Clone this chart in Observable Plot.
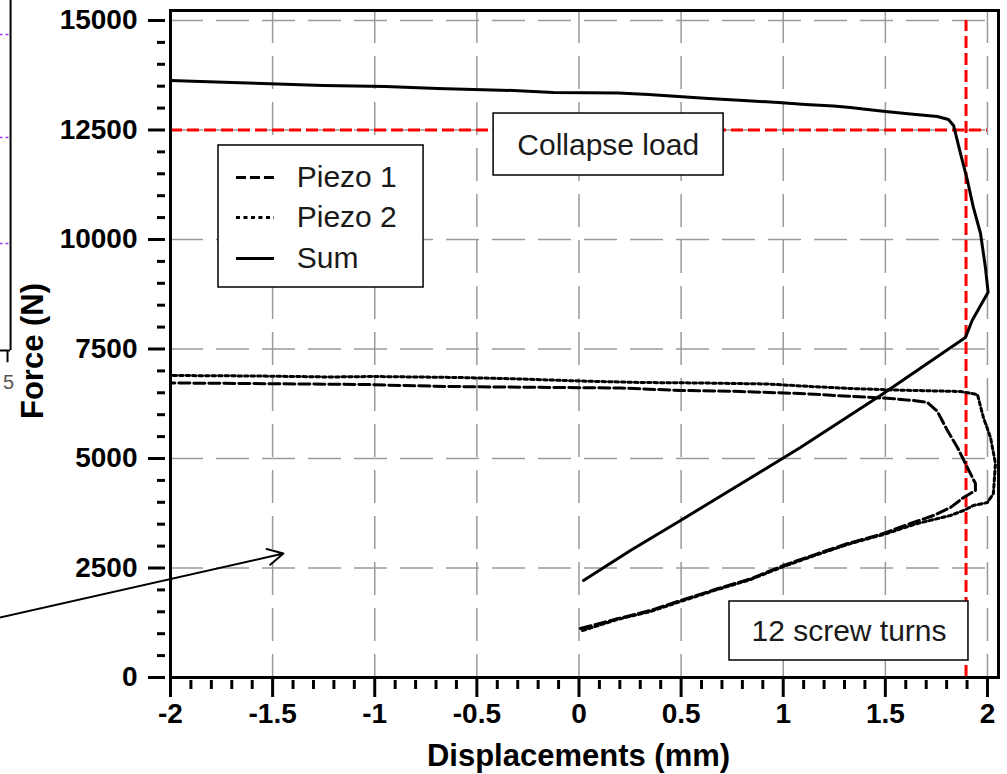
<!DOCTYPE html>
<html><head><meta charset="utf-8">
<script src="https://cdn.jsdelivr.net/npm/d3@7"></script>
<script src="https://cdn.jsdelivr.net/npm/@observablehq/plot@0.6"></script>
<style>
html,body{margin:0;padding:0;background:#fff;}
#chart{width:1007px;height:774px;overflow:hidden;}
</style></head><body><div id="chart"></div>
<script>
// ---- tick labels ----
const xMajorTicks = [-2, -1.5, -1, -0.5, 0, 0.5, 1, 1.5, 2];
const xMinorTicks = [-1.9,-1.8,-1.7,-1.6,-1.4,-1.3,-1.2,-1.1,-0.9,-0.8,-0.7,-0.6,-0.4,-0.3,-0.2,-0.1,
                     0.1,0.2,0.3,0.4,0.6,0.7,0.8,0.9,1.1,1.2,1.3,1.4,1.6,1.7,1.8,1.9];
const yMajorTicks = [0, 2500, 5000, 7500, 10000, 12500, 15000];
const yMinorTicks = [500,1000,1500,2000,3000,3500,4000,4500,5500,6000,6500,7000,8000,8500,9000,9500,
                     10500,11000,11500,12000,13000,13500,14000,14500];
const xGrid = [-1.5, -1, -0.5, 0, 0.5, 1, 1.5, 2];
const yGrid = [2500, 5000, 7500, 10000, 12500, 15000];

// ---- series (displacement mm, force N) ----
const sumX = [0.022,0.252,0.497,0.658,1.084,1.476,1.892,1.925,2.003,1.990,1.966,1.931,1.902,1.868,1.834,1.809,1.755,1.623,1.501,1.413,1.329,1.246,1.109,0.977,0.805,0.634,0.487,0.340,0.193,-0.125,-0.321,-0.693,-0.947,-1.251,-1.550,-1.853,-2.0];
const sumY = [2215,2900,3584,4041,5251,6438,7763,8151,8797,9361,10137,10731,11347,11963,12603,12740,12808,12865,12922,12968,13014,13048,13082,13128,13174,13219,13265,13311,13345,13356,13402,13447,13493,13516,13562,13607,13630];

const piezo1X = [0.007,0.187,0.350,0.497,0.677,0.840,1.001,1.166,1.313,1.491,1.623,1.736,1.819,1.883,1.941,1.941,1.892,1.853,1.804,1.755,1.706,1.638,1.525,1.344,1.084,0.790,0.497,0.203,-0.091,-0.384,-0.644,-0.874,-1.036,-1.364,-1.594,-2.0];
const piezo1Y = [1119,1340,1530,1758,2025,2253,2557,2824,3053,3288,3516,3699,3881,4110,4269,4429,4886,5251,5639,6073,6279,6324,6370,6416,6484,6530,6553,6610,6621,6632,6644,6667,6689,6701,6712,6724];

const piezo2X = [0.017,0.188,0.350,0.497,0.678,0.840,1.001,1.168,1.315,1.491,1.657,1.819,1.883,1.931,2.000,2.029,2.039,2.015,1.980,1.951,1.868,1.540,1.329,1.133,0.923,0.595,0.301,0.007,-0.286,-0.580,-1.006,-1.217,-1.594,-2.0];
const piezo2Y = [1073,1324,1507,1735,2009,2237,2534,2808,3037,3265,3516,3699,3813,3927,3995,4201,4886,5479,5936,6461,6530,6564,6598,6644,6701,6724,6735,6769,6815,6849,6872,6861,6884,6895];

// ---- reference lines ----
const collapseLoad = [12500];
const screwTurnsX = [1.895];

// ---- annotations ----
const noteTexts = ["Collapse load", "12 screw turns"];
const noteBoxX1 = [-0.418, 0.737];
const noteBoxX2 = [0.708, 1.907];
const noteBoxY1 = [11461, 388];
const noteBoxY2 = [12876, 1735];
const noteTextX = [0.143, 1.322];
const noteTextY = [12150, 1055];

const legendLabels = ["Piezo 1", "Piezo 2", "Sum"];
const legendDash = ["10,4", "4,3.5", null];
const legendBox = {x1: -1.765, x2: -0.761, y1: 8904, y2: 12146};
const legendRowY = [11415, 10502, 9566];
const legendLineX = [-1.677, -1.491];
const legendTextX = -1.382;

const arrowFrom = [-2.9, 1300];
const arrowTo = [-1.447, 2831];

// fragment of the neighbouring figure at the left edge
const fragX = -2.783, fragTickX = -2.798, fragLeftX = -2.84;
const fragY = [7466, 15456];
const fragDashY = [14680, 12328, 9908];

const mk = (xs, ys) => xs.map((x, i) => ({x, y: ys[i]}));
const sum = mk(sumX, sumY), piezo1 = mk(piezo1X, piezo1Y), piezo2 = mk(piezo2X, piezo2Y);
const notes = noteTexts.map((t, i) => ({t, x1: noteBoxX1[i], x2: noteBoxX2[i], y1: noteBoxY1[i], y2: noteBoxY2[i], tx: noteTextX[i], ty: noteTextY[i]}));

const font = "'Liberation Sans', Arial, Helvetica, sans-serif";
const legendMarks = legendLabels.map((lab, i) => Plot.ruleY([legendRowY[i]], {
  x1: legendLineX[0], x2: legendLineX[1], stroke: "black", strokeWidth: 3,
  strokeDasharray: legendDash[i] || undefined
}));

const chart = Plot.plot({
  width: 1007, height: 774,
  marginLeft: 170, marginRight: 9, marginTop: 10, marginBottom: 97,
  x: {domain: [-2, 2.054]},
  y: {domain: [0, 15228]},
  style: {fontFamily: font, background: "white", overflow: "visible"},
  marks: [
    Plot.ruleX(xGrid, {stroke: "#9a9a9a", strokeWidth: 1.5, strokeDasharray: "33,13"}),
    Plot.ruleY(yGrid, {stroke: "#9a9a9a", strokeWidth: 1.5, strokeDasharray: "33,13"}),
    Plot.ruleY(collapseLoad, {x1: -2, x2: 2, stroke: "#f00", strokeWidth: 3, strokeDasharray: "12,5"}),
    Plot.ruleX(screwTurnsX, {y1: 0, y2: 15000, stroke: "#f00", strokeWidth: 3, strokeDasharray: "12,5"}),
    Plot.line(piezo1, {x: "x", y: "y", stroke: "black", strokeWidth: 3, strokeDasharray: "11,4", strokeLinejoin: "round"}),
    Plot.line(piezo2, {x: "x", y: "y", stroke: "black", strokeWidth: 3, strokeDasharray: "3.5,3", strokeLinejoin: "round"}),
    Plot.line(sum, {x: "x", y: "y", stroke: "black", strokeWidth: 3}),
    Plot.rect(notes, {x1: "x1", x2: "x2", y1: "y1", y2: "y2", fill: "white", stroke: "black", strokeWidth: 1.5}),
    Plot.text(notes, {x: "tx", y: "ty", text: "t", fontSize: 30, fill: "#1a1a1a", textAnchor: "middle"}),
    Plot.rect([legendBox], {x1: "x1", x2: "x2", y1: "y1", y2: "y2", fill: "white", stroke: "black", strokeWidth: 1.5}),
    ...legendMarks,
    Plot.text(legendLabels, {x: legendTextX, y: (d, i) => legendRowY[i], text: d => d, fontSize: 30, fill: "#1a1a1a", textAnchor: "start"}),
    Plot.frame({stroke: "black", strokeWidth: 3}),
    // y axis: minor + major ticks
    Plot.axisY(yMinorTicks, {anchor: "left", tickSize: 8, dx: -5, strokeWidth: 3, fill: "none", label: null}),
    Plot.axisY(yMajorTicks, {anchor: "left", tickSize: 17, dx: -5, tickPadding: 11, strokeWidth: 3,
      fontSize: 28, fontWeight: "bold", fill: "black", tickFormat: d => String(d), label: null}),
    // x axis
    Plot.axisX(xMinorTicks, {anchor: "bottom", tickSize: 9, dy: 3, strokeWidth: 3, fill: "none", label: null}),
    Plot.axisX(xMajorTicks, {anchor: "bottom", tickSize: 18, dy: 2, tickPadding: 6, strokeWidth: 3,
      fontSize: 28, fontWeight: "bold", fill: "black", tickFormat: d => String(d), label: null}),
    Plot.text(["Force (N)"], {frameAnchor: "left", dx: -137, dy: 7, rotate: -90, fontSize: 31, fontWeight: "bold", fill: "black", lineAnchor: "middle", textAnchor: "middle"}),
    Plot.text(["Displacements (mm)"], {frameAnchor: "bottom", dx: -6, dy: 79, fontSize: 31, fontWeight: "bold", fill: "black", lineAnchor: "middle", textAnchor: "middle"}),
    Plot.arrow([{x1: arrowFrom[0], y1: arrowFrom[1], x2: arrowTo[0], y2: arrowTo[1]}],
      {x1: "x1", y1: "y1", x2: "x2", y2: "y2", stroke: "black", strokeWidth: 2, headLength: 13, headAngle: 55}),
    // neighbouring figure fragment
    Plot.ruleX([fragX], {y1: fragY[0], y2: fragY[1], stroke: "black", strokeWidth: 2}),
    Plot.ruleY([fragY[0]], {x1: fragLeftX, x2: fragX, stroke: "black", strokeWidth: 2}),
    Plot.ruleX([fragTickX], {y1: fragY[0], y2: fragY[0] - 280, stroke: "black", strokeWidth: 2}),
    Plot.ruleY(fragDashY, {x1: fragLeftX, x2: fragX - 0.008, stroke: "#9933ff", strokeWidth: 1.5, strokeDasharray: "4,3"}),
    Plot.text(["5"], {x: fragTickX + 0.005, y: fragY[0] - 730, fontSize: 20, fill: "#555"})
  ]
});
document.getElementById("chart").appendChild(chart);
</script></body></html>
